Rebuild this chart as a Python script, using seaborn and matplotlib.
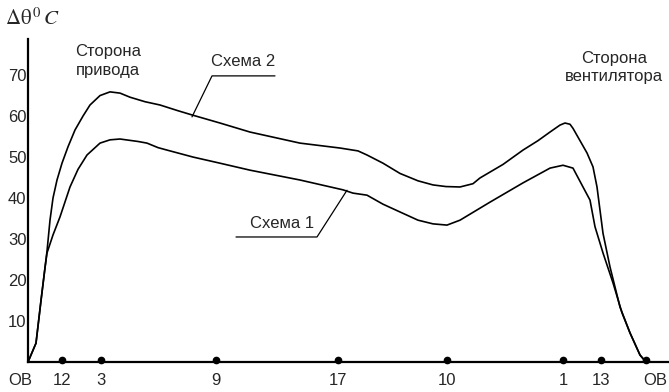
# temperature rise along the stator core, two schemes
import pandas as pd
import seaborn as sns
import matplotlib.pyplot as plt
from matplotlib.transforms import ScaledTranslation

# x positions along the core (arbitrary length units), y = overheat, deg C
x_scheme2 = [0, 8, 13, 17, 19, 22, 25, 29, 34, 40, 47, 55, 62, 72, 82, 92, 102, 117, 132,
             150, 165, 192, 222, 272, 312, 330, 339, 355, 372, 390, 405, 418, 432, 445,
             452, 475, 495, 510, 522, 532, 537, 542, 545, 552, 559, 565, 569, 575, 582,
             592, 602, 612, 618]
y_scheme2 = [0, 4.6, 15, 23, 27, 34.6, 40, 44.4, 48.5, 52.5, 56.6, 60, 62.7, 65, 65.9, 65.6,
             64.6, 63.5, 62.7, 61.3, 60.2, 58.3, 56.1, 53.4, 52.2, 51.5, 50.5, 48.5, 46,
             44.2, 43.2, 42.8, 42.7, 43.5, 44.9, 48.2, 51.7, 54, 56.1, 57.8, 58.3, 58, 57,
             54, 51, 47.6, 42.7, 31.4, 23.2, 13.4, 7.1, 1.7, 0]

x_scheme1 = [0, 8, 13, 17, 19, 25, 32, 42, 50, 59, 72, 82, 92, 110, 119, 130, 139, 165, 192,
             222, 272, 315, 325, 339, 355, 372, 390, 405, 419, 432, 462, 495, 522, 535, 545,
             555, 562, 567, 575, 585, 594, 602, 612, 618]
y_scheme1 = [0, 4.6, 15, 23, 26.6, 31, 35.4, 42.7, 47, 50.5, 53.4, 54.2, 54.4, 53.8, 53.4,
             52.3, 51.7, 50, 48.5, 46.8, 44.4, 42, 41.2, 40.7, 38.5, 36.6, 34.6, 33.7, 33.4,
             34.6, 39, 43.7, 47.3, 48, 47.3, 42.7, 39.5, 33, 26.6, 19.3, 12, 7.1, 1.7, 0]

# tooth / slot marks on the axis
dot_x = [34, 73, 188, 310, 419, 535, 573, 618]
tick_x = [34, 73, 188, 310, 419, 535, 573, 627]
tick_labels = ["12", "3", "9", "17", "10", "1", "13", "OB"]
y_ticks = [10, 20, 30, 40, 50, 60, 70]

sns.set_style("white")
plt.rcParams['font.family'] = ['Liberation Sans', 'DejaVu Sans']
plt.rcParams['mathtext.fontset'] = 'stix'

df = pd.concat([
    pd.DataFrame({"x": x_scheme2, "y": y_scheme2, "scheme": "Схема 2"}),
    pd.DataFrame({"x": x_scheme1, "y": y_scheme1, "scheme": "Схема 1"}),
])

fig = plt.figure(figsize=(6.69, 3.92), dpi=100)
ax = fig.add_axes([28 / 669, 1 - 362 / 392, 1 - 28 / 669, (362 - 39) / 392])

sns.lineplot(data=df, x="x", y="y", hue="scheme", palette=["black", "black"],
             estimator=None, sort=False, legend=False, linewidth=1.2, ax=ax)
ax.plot(dot_x, [0.4] * len(dot_x), 'o', color="black", markersize=4.5, clip_on=False)

ax.set_xticks(tick_x)
ax.set_xticklabels(tick_labels)
ax.set_yticks(y_ticks)
ax.set_xlim(0, 641)
ax.set_ylim(0, 78.8)
ax.tick_params(axis="x", length=0, pad=8, labelsize=12)
ax.tick_params(axis="y", length=0, pad=1, labelsize=12)
ax.set_xlabel("")
ax.set_ylabel("")
for s in ["top", "right"]:
    ax.spines[s].set_visible(False)
for s in ["left", "bottom"]:
    ax.spines[s].set_color("black")
    ax.spines[s].set_linewidth(1.6)

# left-hand "OB" sits just outside the axis
ax.text(-8, 0, "OB", ha="center", va="top", fontsize=12, clip_on=False,
        transform=ax.transData + ScaledTranslation(0, -8 / 72, fig.dpi_scale_trans))

# leader lines and labels
ax.plot([164, 184, 247], [59.8, 69.8, 69.8], color="black", linewidth=0.9)
ax.text(215, 73.2, "Схема 2", ha="center", va="center", fontsize=12)
ax.plot([208, 289, 319], [30.5, 30.5, 41.9], color="black", linewidth=0.9)
ax.text(254, 33.9, "Схема 1", ha="center", va="center", fontsize=12)

ax.text(80, 73.4, "Сторона\nпривода", ha="center", va="center", fontsize=12, linespacing=1.3)
ax.text(586, 71.8, "Сторона\nвентилятора", ha="center", va="center", fontsize=12,
        linespacing=1.3)

fig.text(5 / 669, 1 - 18 / 392, r"$\Delta\mathrm{\theta}^{\,0}\,C$", ha="left", va="center",
         fontsize=15)

plt.savefig("out.png", dpi=100)
